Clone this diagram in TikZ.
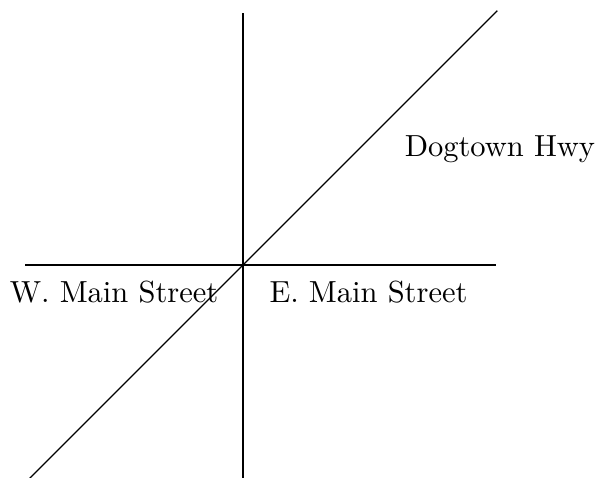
\documentclass[tikz,border=0pt]{standalone}
\usetikzlibrary{positioning}

\begin{document}
\begin{tikzpicture}[street/.style={thin},
    streetname/.style={anchor=base, inner sep=0pt}]
\useasboundingbox (-2.80,-2.454) rectangle (4.136,3.053);
\coordinate (center) at (0,0);
\coordinate (west) at (-2.51,0);
\coordinate (east) at (2.915,0);
\coordinate (north) at (0,2.90);
\coordinate (south) at (0,-2.90);
\coordinate (sw) at (-2.90,-2.90);
\coordinate (ne) at (2.93,2.93);
\draw[street] (west) -- (east);
\draw[street] (south) -- (north);
\draw[street] (sw) -- (ne);
\node[streetname] (wmain) at (-1.486,-0.438) {W. Main Street};
\node[streetname] (emain) at (1.446,-0.438) {E. Main Street};
\node[streetname] (dogtown) at (2.96,1.244) {Dogtown Hwy};
\end{tikzpicture}
\end{document}
